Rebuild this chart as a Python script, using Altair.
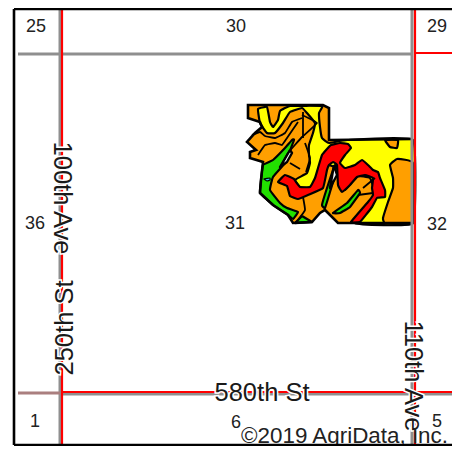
import altair as alt
import pandas as pd

# Picture coordinates (x right, y down), in source pixels
field = [(413,223),(338,223),(325,210),(320,213),(312,222),(293,223),(288,215),(273,205),(260,193),(261,180),(263,162),(250,158),(250,152),(256,150),(247,142),(255,133),(262,127),(260,122),(248,118),(248,105),(323,105),(329,108),(329,140),(413,139)]
yellow = [(258,109),(267,107),(270,122),(273,127),(278,120),(280,111),(290,106),(322,106),(319,113),(320,127),(322,138),(329,143),(347,140),(413,140),(413,223),(355,223),(375,195),(370,178),(357,176),(345,190),(340,170),(328,165),(320,180),(310,188),(300,187),(295,180),(307,173),(310,163),(309,155),(309,145),(313,133),(315,123),(307,113),(302,108),(290,112),(283,123),(275,133),(267,133),(260,123)]
orange_right = [(413,163),(397,159),(390,165),(393,178),(393,188),(388,202),(383,218),(385,223),(413,223)]
orange_blob = [(385,140),(398,140),(397,148),(390,147)]
red = [(278,182),(285,175),(294,179),(296,182),(300,187),(310,187),(315,178),(318,168),(322,155),(327,149),(331,145),(340,143),(348,144),(351,148),(345,155),(340,163),(345,168),(355,165),(362,160),(368,165),(373,170),(378,172),(380,178),(385,190),(385,197),(377,198),(372,207),(360,222),(351,222),(368,202),(373,195),(372,188),(373,178),(365,175),(357,177),(350,185),(342,192),(338,185),(337,165),(333,162),(329,165),(327,170),(323,188),(308,195),(298,199),(290,196),(287,186)]
green_left = [(292,140),(294,140),(285,163),(273,177),(270,190),(280,203),(287,208),(298,212),(293,219),(288,215),(273,205),(260,193),(261,180),(263,165),(273,160),(285,148)]
green_bottom = [(302,216),(312,222),(295,223)]
green_mid = [(335,165),(327,188),(322,205),(325,208),(330,192),(335,175)]
green_low = [(333,213),(347,203),(358,190),(360,193),(350,207),(340,213)]
white_a = [(290,150),(280,167),(287,162),(292,153)]
white_b = [(334,165),(330,188),(337,175)]
blue_dot = [(264,179),(270,178),(270,180),(267,181)]
lines = [
    [(252,135),(260,132),(265,136),(275,138),(285,133),(292,122),(302,118)],
    [(258,155),(265,145),(275,143),(282,145),(287,138),(298,122)],
    [(303,112),(303,138)],
    [(302,115),(317,123),(302,137),(288,153),(280,168)],
    [(290,163),(300,169)],
    [(305,143),(310,158),(306,172)],
    [(303,197),(305,210),(298,220)],
    [(358,195),(373,193)],
    [(363,188),(375,178)],
]

road_v_gray = [60, 412]
road_v_red = [62, 415]
road_h_gray = [(18, 412, 54), (62, 452, 394)]
road_h_red = [(414, 452, 53), (62, 452, 392)]
road_h_mixed = [(18, 60, 393)]
section_labels = [("25",36,27),("30",236,27),("29",437,27),("36",35,224),("31",235,224),("32",437,225),("1",35,422),("6",236,423),("5",437,422)]
road_labels = [("580th St",262,393,0),("100th Ave",62,198,90),("250th St",65,328,270),("110th Ave",413,376,90)]

X = alt.Scale(domain=[8, 452], range=[0, 444], nice=False, zero=False)
Y = alt.Scale(domain=[8, 446], range=[0, 438], nice=False, zero=False)
xe = lambda f="x": alt.X(f"{f}:Q", scale=X, axis=None)
ye = lambda f="y": alt.Y(f"{f}:Q", scale=Y, axis=None)


def poly(points, fill, width=2.4, interp="linear", close=True):
    pts = points + points[:1] if close else points
    df = pd.DataFrame(pts, columns=["x", "y"]).reset_index()
    return alt.Chart(df).mark_line(fill=fill, stroke="black", strokeWidth=width, interpolate=interp, tension=0.7, strokeJoin="round").encode(x=xe(), y=ye(), order="index:Q")


def smooth(points, fill, width=2.2):
    return poly(points, fill, width, interp="cardinal-closed", close=False)


def path(points, width=1.8, interp="cardinal"):
    df = pd.DataFrame(points, columns=["x", "y"]).reset_index()
    return alt.Chart(df).mark_line(stroke="black", strokeWidth=width, interpolate=interp, tension=0.7).encode(x=xe(), y=ye(), order="index:Q")


def segs(rows, colour, width):
    df = pd.DataFrame(rows, columns=["x", "x2", "y", "y2"])
    return alt.Chart(df).mark_rule(color=colour, strokeWidth=width).encode(x=xe(), x2="x2:Q", y=ye(), y2="y2:Q")


layers = [
    poly(field, "#ff9f00", 0),
    smooth(yellow, "#ffff00"),
    smooth(orange_right, "#ff9f00"),
    smooth(orange_blob, "#ff9f00"),
    smooth(red, "#ff0000"),
    smooth(green_left, "#22e000"),
    poly(green_bottom, "#22e000"),
    smooth(green_mid, "#22e000"),
    smooth(green_low, "#22e000"),
    poly(white_a, "#f4f4f4"),
    poly(white_b, "#f4f4f4"),
    smooth(blue_dot, "#30c8e0", 1.2),
    path(field, 2.6, "linear"),
]
for p in lines:
    layers.append(path(p))

layers += [
    segs([(a, b, y, y) for a, b, y in road_h_gray] + [(x, x, 8, 444) for x in road_v_gray], "#8f8f8f", 3),
    segs([(a, b, y, y) for a, b, y in road_h_mixed], "#aa7f7f", 3),
    segs([(a, b, y, y) for a, b, y in road_h_red] + [(x, x, 8, 444) for x in road_v_red], "#ff0000", 2.2),
]

sec = pd.DataFrame(section_labels, columns=["t", "x", "y"])
layers.append(alt.Chart(sec).mark_text(font="Liberation Sans", fontSize=18, color="#222222").encode(x=xe(), y=ye(), text="t:N"))

for t, x, y, a in road_labels:
    d = pd.DataFrame({"t": [t], "x": [x], "y": [y]})
    layers.append(alt.Chart(d).mark_text(font="Liberation Sans", fontSize=25.5, angle=a, stroke="white", strokeWidth=3, color="white").encode(x=xe(), y=ye(), text="t:N"))
    layers.append(alt.Chart(d).mark_text(font="Liberation Sans", fontSize=25.5, angle=a, color="#1a1a1a").encode(x=xe(), y=ye(), text="t:N"))

cp = pd.DataFrame({"t": ["©2019 AgriData, Inc."], "x": [448], "y": [443]})
layers.append(alt.Chart(cp).mark_text(font="Liberation Sans", fontSize=22.4, align="right", baseline="alphabetic", color="#222222").encode(x=xe(), y=ye(), text="t:N"))

frame = pd.DataFrame({"x": [14, 14], "x2": [452, 14], "y": [9, 9], "y2": [9, 445]})
bottom = pd.DataFrame({"x": [14], "x2": [452], "y": [445], "y2": [445]})
layers.append(alt.Chart(frame).mark_rule(color="black", strokeWidth=2.6).encode(x=xe(), x2="x2:Q", y=ye(), y2="y2:Q"))
layers.append(alt.Chart(bottom).mark_rule(color="black", strokeWidth=2.6).encode(x=xe(), x2="x2:Q", y=ye(), y2="y2:Q"))

chart = alt.layer(*layers).properties(width=444, height=438, padding=0, autosize=alt.AutoSizeParams(type="none")).configure_view(stroke=None)
chart.save("out.html", embed_options={"renderer": "svg", "actions": False})
